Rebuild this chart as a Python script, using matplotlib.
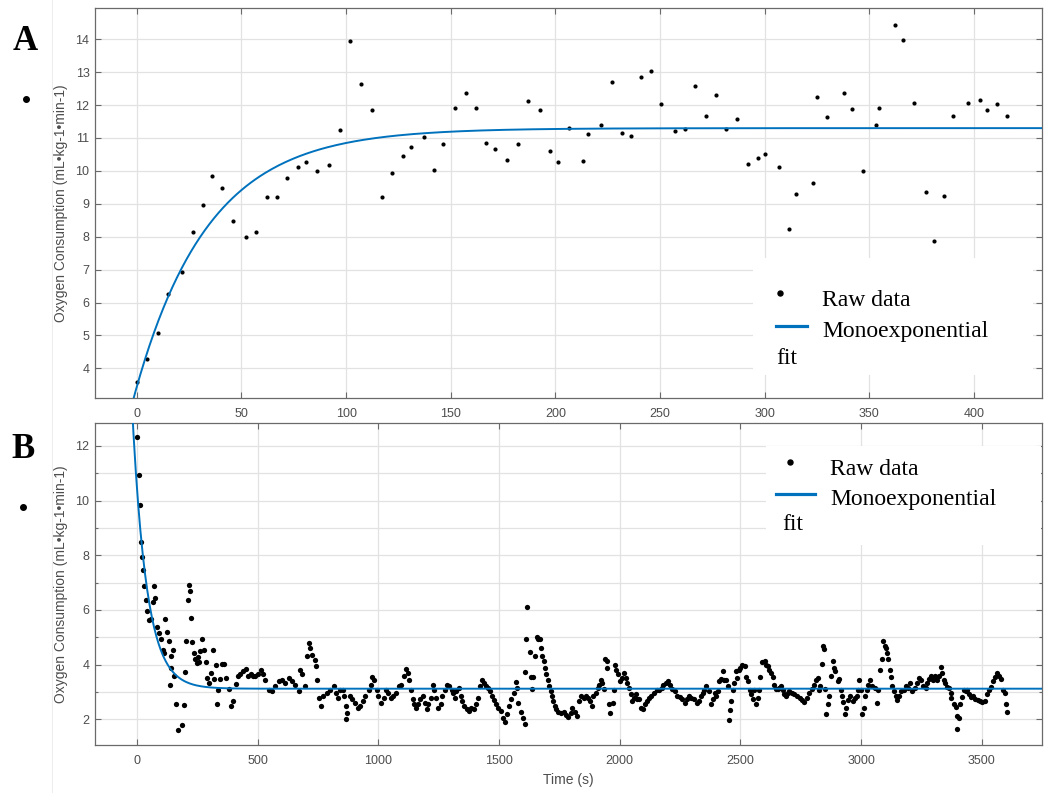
import matplotlib
matplotlib.use("Agg")
import matplotlib.pyplot as plt
import numpy as np
from matplotlib.lines import Line2D
from matplotlib.patches import Rectangle

# ── Panel A: on-kinetics (raw breath-by-breath points) ───────────────────────
t_a = [0, 5.0, 9.9, 15.0, 21.8, 27.0, 31.8, 35.9, 40.9, 45.8,
       52.2, 57.1, 62.1, 67.0, 71.8, 76.8, 80.7, 86.2, 92.0, 97.1,
       101.9, 106.9, 112.3, 117.1, 122.1, 127.0, 131.2, 137.0, 141.9, 146.1,
       152.2, 157.3, 162.1, 167.0, 171.0, 177.0, 182.3, 186.9,
       192.6, 197.6, 201.0, 206.6, 213.0, 215.6, 221.8, 226.8, 231.7, 235.9,
       240.7, 245.6, 250.6, 257.0, 262.0, 266.8, 271.9, 276.8, 281.6, 286.9,
       291.9, 296.9, 300.1, 306.8, 311.8, 315.0, 323.0, 324.9, 329.7, 337.9,
       341.7, 346.8, 353.1, 354.7, 362.2, 366.2, 371.2, 376.9, 380.9, 385.9,
       390.0, 397.2, 402.9, 406.0, 411.1, 416.0]
vo2_a = [3.59, 4.29, 5.06, 6.25, 6.93, 8.13, 8.95, 9.86, 9.48, 8.49,
         7.98, 8.13, 9.20, 9.20, 9.78, 10.11, 10.28, 9.99, 10.18, 11.24,
         13.95, 12.65, 11.85, 9.20, 9.95, 10.45, 10.72, 11.03, 10.04, 10.82,
         11.92, 12.36, 11.92, 10.86, 10.67, 10.33, 10.81, 12.12,
         11.85, 10.61, 10.27, 11.29, 10.30, 11.12, 11.41, 12.69, 11.15, 11.05,
         12.84, 13.04, 12.02, 11.20, 11.27, 12.58, 11.66, 12.31, 11.27, 11.57,
         10.21, 10.40, 10.52, 10.11, 8.22, 9.31, 9.63, 12.24, 11.63, 12.38,
         11.87, 10.01, 11.38, 11.90, 14.42, 13.98, 12.06, 9.35, 7.88, 9.23,
         11.68, 12.06, 12.16, 11.85, 12.04, 11.66]

# monoexponential fit A: y = plateau - amp * exp(-t / tau)
FIT_A_PLATEAU, FIT_A_AMP, FIT_A_TAU = 11.3, 7.85, 35.0

# ── Panel B: off-kinetics / recovery ─────────────────────────────────────────
t_b = [0, 7, 11, 17, 21, 25, 30, 37, 41, 50,
       58, 66, 69, 74, 83, 90, 97, 105, 111, 117,
       122, 131, 134, 138, 142, 148, 152, 159, 169, 187,
       193, 198, 203, 210, 214, 218, 221, 228, 235, 240,
       246, 251, 257, 262, 269, 276, 283, 290, 297, 304,
       312, 318, 325, 331, 334, 345, 352, 359, 370, 380,
       390, 398, 408, 417, 428, 439, 449, 459, 470, 481,
       490, 500, 511, 522,
       531, 545, 558, 572, 586, 600, 614, 627, 641, 655,
       669, 676, 685, 694, 703, 710, 717, 724, 735, 741,
       745, 754, 763, 772, 786, 800, 814, 823, 832, 841,
       851, 859, 865, 867, 869, 883, 892, 903, 914, 924,
       934, 945, 959, 970, 975, 983, 993, 1000, 1011, 1021,
       1030, 1041, 1052, 1062, 1072, 1083, 1094, 1104, 1113, 1122,
       1127, 1135, 1141, 1149,
       1155, 1165, 1174, 1183, 1192, 1199, 1206, 1216, 1224, 1229,
       1238, 1247, 1257, 1265, 1275, 1285, 1293, 1303, 1310, 1316,
       1323, 1333, 1340, 1348, 1355, 1365, 1376, 1385, 1395, 1406,
       1414, 1420, 1427, 1437, 1445, 1454, 1461, 1470, 1478, 1486,
       1496, 1506, 1514, 1523, 1533, 1541, 1551, 1561, 1569, 1575,
       1580, 1590, 1597, 1606, 1609, 1612, 1616, 1627, 1634, 1638,
       1641, 1648, 1655, 1661, 1668, 1673, 1679, 1685, 1690, 1696,
       1702, 1707, 1713, 1718, 1724, 1731, 1737, 1746,
       1756, 1767, 1776, 1786, 1797, 1804, 1814, 1822, 1832, 1839,
       1850, 1859, 1869, 1877, 1883, 1891, 1901, 1908, 1914, 1921,
       1928, 1935, 1939, 1946, 1949, 1956, 1960, 1970, 1977, 1979,
       1986, 1993, 2001, 2011, 2018, 2025, 2032, 2039, 2046, 2052,
       2059, 2066, 2073, 2081, 2090, 2098, 2104, 2112, 2121, 2131,
       2142, 2153, 2163, 2173, 2181, 2191, 2200, 2208, 2218, 2228,
       2239, 2250, 2259, 2269, 2277, 2287, 2297, 2308, 2319, 2328,
       2338, 2346,
       2351, 2358, 2369, 2379, 2386, 2393, 2399, 2406, 2413, 2420,
       2427, 2434, 2441, 2448, 2452, 2457, 2462, 2469, 2475, 2480,
       2486, 2493, 2499, 2507, 2517, 2524, 2531, 2538, 2544, 2551,
       2558, 2565, 2572, 2579, 2583, 2590, 2600, 2607, 2613, 2620,
       2627, 2634, 2641, 2648, 2655, 2662, 2669, 2676, 2682, 2689,
       2696, 2703, 2714, 2724, 2733, 2745, 2756, 2765, 2775, 2786,
       2797, 2807, 2814, 2820, 2825, 2830, 2838, 2844, 2848, 2852,
       2856, 2862, 2869, 2876, 2883, 2887, 2894, 2903, 2910, 2917,
       2921, 2927, 2932, 2938, 2945,
       2955, 2965, 2974, 2983, 2988, 2992, 2999, 3006, 3013, 3017,
       3024, 3030, 3038, 3047, 3057, 3065, 3071, 3079, 3085, 3093,
       3098, 3103, 3107, 3112, 3120, 3126, 3130, 3137, 3144, 3151,
       3158, 3165, 3176, 3185, 3195, 3203, 3213, 3222, 3231, 3240,
       3250, 3258, 3268, 3275, 3282, 3291, 3300, 3305, 3313, 3323,
       3330, 3337, 3344, 3350, 3357, 3364, 3371, 3374, 3385, 3392,
       3396, 3399, 3406, 3412, 3419, 3426, 3433, 3440, 3447, 3457,
       3465, 3474, 3484, 3492, 3502, 3512, 3520, 3530, 3539, 3547,
       3557, 3564, 3571, 3578, 3589, 3596, 3600, 3603]
vo2_b = [12.34, 10.94, 9.85, 8.48, 7.94, 7.45, 6.89, 6.38, 5.95, 5.65,
         5.67, 6.28, 6.89, 6.44, 5.38, 5.16, 4.94, 4.55, 4.43, 5.67,
         5.19, 4.86, 3.24, 3.89, 4.31, 4.55, 3.58, 2.55, 1.61, 1.78,
         2.51, 3.73, 4.86, 6.36, 6.93, 6.68, 5.69, 4.82, 4.43, 4.19,
         4.07, 4.29, 4.09, 4.49, 4.92, 4.55, 4.09, 3.52, 3.34, 3.70,
         4.55, 3.46, 3.97, 2.55, 3.07, 3.46, 4.03, 4.03, 3.52, 3.12,
         2.49, 2.67, 3.28, 3.58, 3.64, 3.76, 3.85, 3.58, 3.64, 3.58,
         3.58, 3.64, 3.82, 3.64,
         3.45, 3.09, 3.03, 3.21, 3.39, 3.45, 3.33, 3.52, 3.39, 3.27,
         3.03, 3.82, 3.64, 3.21, 4.30, 4.79, 4.61, 4.36, 4.18, 3.94,
         3.45, 2.79, 2.48, 2.85, 2.97, 3.09, 3.21, 2.97, 2.79, 3.09,
         3.09, 2.85, 2.48, 2.00, 2.22, 2.85, 2.73, 2.61, 2.42, 2.48,
         2.67, 2.85, 3.09, 3.27, 3.55, 3.45, 3.09, 2.85, 2.61, 2.79,
         3.09, 2.97, 2.79, 2.85, 2.97, 3.21, 3.27, 3.58, 3.84, 3.70,
         3.45, 3.09, 2.73, 2.55,
         2.42, 2.55, 2.73, 2.87, 2.61, 2.36, 2.55, 2.79, 3.27, 3.09,
         2.79, 2.42, 2.55, 2.85, 3.09, 3.27, 3.21, 3.09, 2.97, 2.79,
         3.03, 3.15, 2.87, 2.67, 2.48, 2.36, 2.30, 2.42, 2.36, 2.55,
         2.79, 3.21, 3.45, 3.33, 3.21, 3.15, 3.03, 2.85, 2.70, 2.55,
         2.42, 2.30, 2.06, 1.90, 2.18, 2.48, 2.73, 2.97, 3.36, 3.14,
         2.61, 2.27, 2.06, 1.82, 3.72, 4.93, 6.10, 4.45, 3.55, 3.12,
         3.55, 4.33, 5.00, 4.93, 4.93, 4.61, 4.30, 4.12, 3.88, 3.64,
         3.45, 3.21, 3.03, 2.85, 2.67, 2.48, 2.36, 2.27,
         2.22, 2.27, 2.15, 2.10, 2.22, 2.42, 2.27, 2.12, 2.67, 2.85,
         2.79, 2.87, 2.79, 2.67, 2.48, 2.85, 2.97, 3.15, 3.27, 3.45,
         3.31, 3.12, 4.21, 4.12, 3.88, 2.55, 2.24, 2.61, 3.09, 4.00,
         3.79, 3.64, 3.39, 3.52, 3.70, 3.52, 3.33, 3.15, 2.91, 2.67,
         2.79, 2.91, 2.73, 2.73, 2.42, 2.36, 2.55, 2.67, 2.79, 2.85,
         2.97, 3.09, 3.09, 3.15, 3.24, 3.33, 3.39, 3.27, 3.12, 3.03,
         2.87, 2.82, 2.75, 2.61, 2.73, 2.87, 2.79, 2.73, 2.61, 2.67,
         2.85, 2.97,
         3.09, 3.21, 3.03, 2.55, 2.73, 2.97, 2.85, 3.03, 3.39, 3.48,
         3.76, 3.43, 3.45, 3.21, 1.98, 2.34, 2.67, 3.09, 3.33, 3.76,
         3.52, 3.82, 3.88, 4.00, 3.94, 3.55, 3.39, 3.09, 2.91, 2.73,
         3.09, 2.55, 2.79, 3.09, 3.55, 4.08, 4.12, 4.00, 3.94, 3.82,
         3.70, 3.55, 3.27, 3.12, 3.12, 3.15, 3.21, 3.09, 2.91, 2.85,
         2.97, 3.03, 2.97, 2.91, 2.85, 2.79, 2.70, 2.63, 2.79, 2.97,
         3.12, 3.27, 3.45, 3.52, 3.09, 3.21, 4.04, 4.69, 4.57, 3.12,
         2.18, 2.55, 2.85, 3.58, 4.12, 3.88, 3.76, 3.39, 3.48, 3.09,
         2.85, 2.63, 2.18, 2.40, 2.70,
         2.85, 2.67, 2.79, 2.87, 3.09, 3.43, 3.09, 2.18, 2.42, 2.85,
         3.09, 3.27, 3.43, 3.21, 3.15, 2.61, 3.09, 3.79, 4.21, 4.88,
         4.69, 4.61, 4.42, 4.21, 3.82, 3.55, 3.21, 3.03, 2.85, 2.70,
         2.85, 3.03, 3.09, 3.21, 3.15, 3.33, 3.03, 3.15, 3.33, 3.52,
         3.43, 3.21, 3.15, 3.33, 3.48, 3.58, 3.43, 3.58, 3.45, 3.58,
         3.91, 3.70, 3.43, 3.33, 3.18, 3.15, 2.97, 2.79, 2.55, 2.46,
         2.12, 1.64, 2.06, 2.55, 2.82, 3.09, 3.03, 3.06, 2.94, 2.82,
         2.85, 2.75, 2.69, 2.67, 2.63, 2.67, 2.91, 3.09, 3.18, 3.39,
         3.55, 3.70, 3.58, 3.48, 3.09, 2.95, 2.55, 2.27]

# monoexponential fit B: y = plateau + amp * exp(-t / tau)
FIT_B_PLATEAU, FIT_B_AMP, FIT_B_TAU = 3.12, 7.2, 60.0

YLABEL = "Oxygen Consumption (mL\u2022kg-1\u2022min-1)"

# ── Style ────────────────────────────────────────────────────────────────────
BLUE  = "#0072BD"
GREY  = "#4d4d4d"
EDGE  = "#6a6a6a"
GRID  = "#e2e2e2"
SANS  = ["Liberation Sans", "DejaVu Sans"]
SERIF = ["Liberation Serif", "DejaVu Serif"]
plt.rcParams["font.family"] = SANS

W, H = 1044, 793
fig = plt.figure(figsize=(W / 100, H / 100), dpi=100)
fig.patch.set_facecolor("white")


def add_axes_px(left, top, right, bottom):
    return fig.add_axes([left / W, 1 - bottom / H, (right - left) / W, (bottom - top) / H])


def style(ax):
    for s in ax.spines.values():
        s.set_color(EDGE)
        s.set_linewidth(0.9)
    ax.tick_params(which="both", direction="in", top=True, right=True,
                   color=EDGE, width=0.8, labelcolor=GREY, labelsize=9)
    ax.tick_params(which="major", length=4)
    ax.tick_params(which="minor", length=2)
    ax.tick_params(axis="x", pad=7)
    ax.tick_params(axis="y", pad=4)
    ax.grid(True, which="both", color=GRID, linewidth=0.9)
    ax.set_axisbelow(True)
    ax.set_ylabel(YLABEL, fontsize=10, color=GREY)
    ax.yaxis.set_label_coords(-0.028, 0.5)


def legend_block(ax, rect, dot, raw_xy, seg, mono_xy, fit_xy):
    ax.add_patch(Rectangle(rect[:2], rect[2], rect[3], transform=ax.transAxes,
                           facecolor="white", edgecolor="none", zorder=1))
    ax.add_line(Line2D([dot[0]], [dot[1]], marker="o", ms=3.6, color="black",
                       lw=0, transform=ax.transAxes, zorder=5))
    ax.add_line(Line2D(seg[0], seg[1], color=BLUE, lw=2.3,
                       transform=ax.transAxes, zorder=5))
    kw = dict(transform=ax.transAxes, fontsize=17, family=SERIF,
              color="black", va="baseline", ha="left", zorder=5)
    ax.text(*raw_xy, "Raw data", **kw)
    ax.text(*mono_xy, "Monoexponential", **kw)
    ax.text(*fit_xy, "fit", **kw)


# ── Panel A ──────────────────────────────────────────────────────────────────
axA = add_axes_px(95, 8, 1042, 398)
style(axA)
axA.plot(t_a, vo2_a, "o", ms=3.0, mew=0, color="black", zorder=3)
tfa = np.linspace(-5, 435, 400)
axA.plot(tfa, FIT_A_PLATEAU - FIT_A_AMP * np.exp(-tfa / FIT_A_TAU),
         color=BLUE, lw=1.4, zorder=4)
axA.set_xlim(-20, 432.5)
axA.set_ylim(3.1, 14.95)
axA.set_xticks(np.arange(0, 401, 50))
axA.set_yticks(np.arange(4, 15, 1))
legend_block(axA, (0.695, 0.059, 0.2955, 0.30), (0.7233, 0.269),
             (0.7677, 0.236), ([0.7191, 0.7518], [0.1846, 0.1846]),
             (0.7677, 0.1556), (0.7191, 0.0872))

# ── Panel B ──────────────────────────────────────────────────────────────────
axB = add_axes_px(95, 423, 1042, 745)
style(axB)
axB.plot(t_b, vo2_b, "o", ms=3.8, mew=0, color="black", zorder=3)
tfb = np.linspace(-25, 3760, 800)
axB.plot(tfb, FIT_B_PLATEAU + FIT_B_AMP * np.exp(-tfb / FIT_B_TAU),
         color=BLUE, lw=1.4, zorder=4)
axB.set_xlim(-175, 3750)
axB.set_ylim(1.06, 12.84)
axB.set_xticks(np.arange(0, 3501, 500))
axB.set_yticks(np.arange(2, 13, 2))
axB.set_yticks(np.arange(3, 12, 2), minor=True)
axB.set_xlabel("Time (s)", fontsize=10, color=GREY)
axB.xaxis.set_label_coords(0.5, -0.088)
legend_block(axB, (0.7086, 0.62, 0.29, 0.31), (0.734, 0.879),
             (0.776, 0.8385), ([0.719, 0.760], [0.7795, 0.7795]),
             (0.776, 0.7453), (0.726, 0.668))

# ── Panel letters and stray bullets ──────────────────────────────────────────
fig.add_artist(Line2D([52 / W, 52 / W], [0, 1], color="#ededed", lw=0.8))
fig.text(25 / W, 1 - 41 / H, "A", ha="center", va="center", fontsize=25,
         fontweight="bold", family=SERIF)
fig.text(23 / W, 1 - 449 / H, "B", ha="center", va="center", fontsize=25,
         fontweight="bold", family=SERIF)
for bx, by in [(26, 99), (23, 507)]:
    fig.add_artist(Line2D([bx / W], [1 - by / H], marker="o", ms=4, lw=0,
                          color="black"))

fig.savefig("out.png", dpi=100, facecolor="white")
